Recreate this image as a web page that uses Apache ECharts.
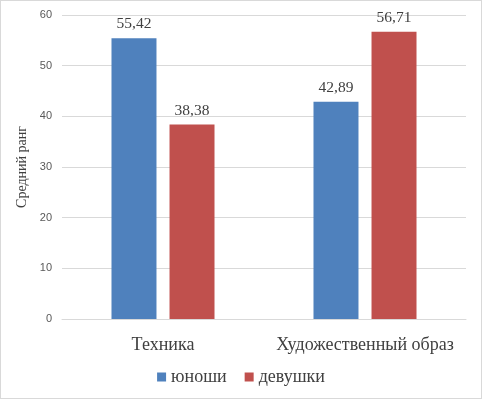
<!DOCTYPE html>
<html>
<head>
<meta charset="utf-8">
<script src="https://cdn.jsdelivr.net/npm/echarts@6/dist/echarts.min.js"></script>
<style>
  html, body { margin: 0; padding: 0; background: #fff; }
  #chart { width: 480px; height: 397px; border: 1px solid #d9d9d9; }
</style>
</head>
<body>
<div id="chart"></div>
<script>
// categories and the two groups
const categories = ["Техника", "Художественный образ"];
const boys = [55.42, 42.89];
const girls = [38.38, 56.71];
const yTicks = [0, 10, 20, 30, 40, 50, 60];

const serif = "Liberation Serif";
const fmt = (v) => v.toFixed(2).replace(".", ",");

const chart = echarts.init(document.getElementById("chart"), null, { renderer: "canvas" });

const labelStyle = {
	show: true,
	position: "top",
	distance: 6,
	fontFamily: serif,
	fontSize: 15.5,
	color: "#404040",
	formatter: (p) => fmt(p.value),
};

chart.setOption({
	animation: false,
	textStyle: { fontFamily: serif },
	grid: { left: 61, right: 15, top: 14, bottom: 79 },
	legend: {
		bottom: 7,
		left: "center",
		itemWidth: 9,
		itemHeight: 9,
		itemGap: 18,
		icon: "rect",
		textStyle: { fontFamily: serif, fontSize: 18, color: "#404040" },
		data: ["юноши", "девушки"],
	},
	xAxis: {
		type: "category",
		data: categories,
		axisLine: { lineStyle: { color: "#d9d9d9" } },
		axisTick: { show: false },
		axisLabel: { interval: 0, hideOverlap: false, fontFamily: serif, fontSize: 18, color: "#404040", margin: 17 },
	},
	yAxis: {
		type: "value",
		min: yTicks[0],
		max: yTicks[yTicks.length - 1],
		interval: 10,
		name: "Средний ранг",
		nameLocation: "middle",
		nameGap: 26,
		nameTextStyle: { fontFamily: serif, fontSize: 14, color: "#404040" },
		axisLine: { show: false },
		axisTick: { show: false },
		axisLabel: { fontFamily: "Liberation Sans", fontSize: 11, color: "#595959", margin: 10 },
		splitLine: { lineStyle: { color: "#d9d9d9" } },
	},
	series: [
		{
			name: "юноши",
			type: "bar",
			data: boys,
			barGap: "29%",
			barCategoryGap: "49%",
			itemStyle: { color: "#4F81BD" },
			label: labelStyle,
		},
		{
			name: "девушки",
			type: "bar",
			data: girls,
			barGap: "29%",
			barCategoryGap: "49%",
			itemStyle: { color: "#C0504D" },
			label: labelStyle,
		},
	],
});
</script>
</body>
</html>
